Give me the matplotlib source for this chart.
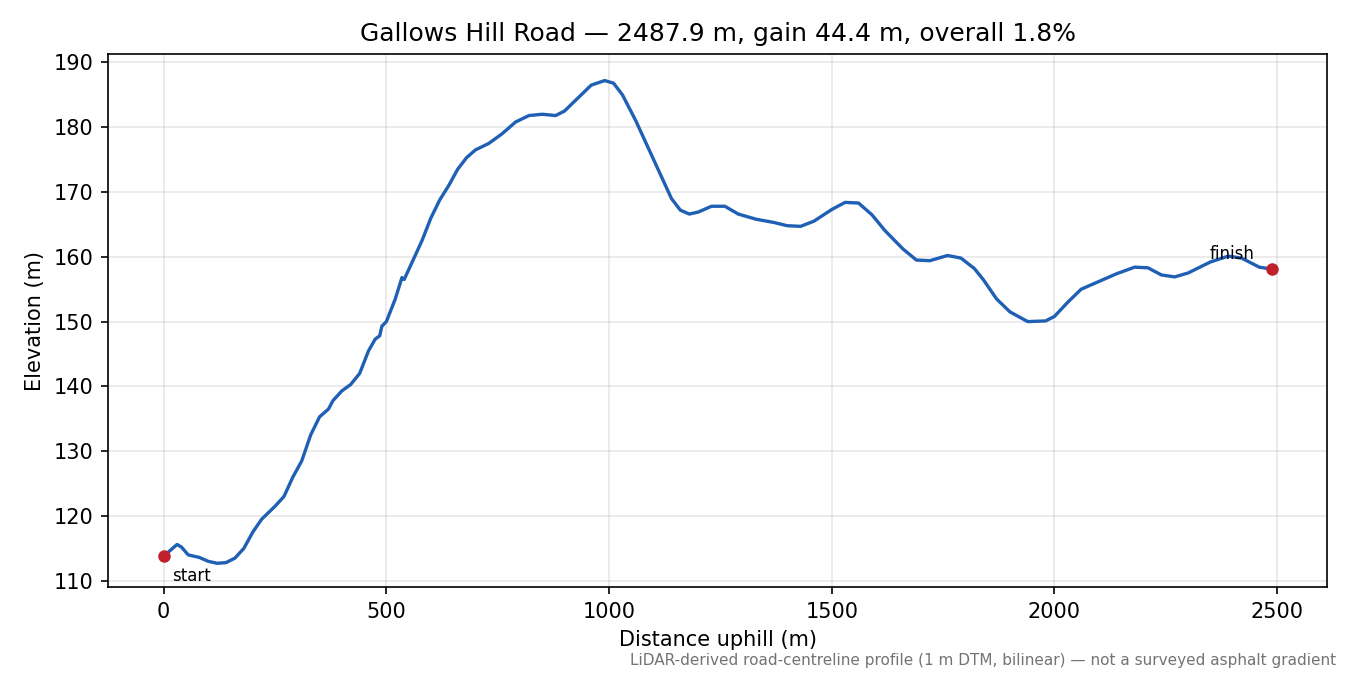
import matplotlib

matplotlib.use("Agg")
import matplotlib.pyplot as plt

# (distance m, elevation m)
DIST = [0, 20, 30, 40, 55, 80, 100, 120, 140, 160, 180, 200, 220, 250, 270, 290, 310,
        330, 350, 370, 380, 400, 420, 440, 460, 475, 485, 490, 500, 520, 535, 540, 560,
        580, 600, 620, 640, 660, 680, 700, 730, 760, 790, 820, 850, 880, 900, 930, 960,
        990, 1010, 1030, 1060, 1090, 1120, 1140, 1160, 1180, 1200, 1230, 1260, 1290,
        1330, 1370, 1400, 1430, 1460, 1500, 1530, 1560, 1590, 1620, 1660, 1690, 1720,
        1760, 1790, 1820, 1840, 1870, 1900, 1940, 1980, 2000, 2030, 2060, 2100, 2140,
        2180, 2210, 2240, 2270, 2300, 2350, 2390, 2420, 2460, 2487.9]
ELEV = [113.8, 115.0, 115.6, 115.2, 114.0, 113.6, 113.0, 112.7, 112.8, 113.5, 115.0,
        117.5, 119.5, 121.5, 123.0, 126.0, 128.5, 132.5, 135.3, 136.5, 137.8, 139.3,
        140.3, 142.0, 145.5, 147.3, 147.8, 149.3, 150.0, 153.5, 156.8, 156.5, 159.5,
        162.5, 166.0, 168.8, 171.0, 173.5, 175.3, 176.5, 177.5, 179.0, 180.8, 181.8,
        182.0, 181.8, 182.5, 184.5, 186.5, 187.2, 186.8, 185.0, 181.0, 176.5, 172.0,
        169.0, 167.2, 166.6, 166.9, 167.8, 167.8, 166.6, 165.8, 165.3, 164.8, 164.7,
        165.5, 167.3, 168.4, 168.3, 166.5, 164.0, 161.2, 159.5, 159.4, 160.2, 159.8,
        158.2, 156.5, 153.5, 151.5, 150.0, 150.1, 150.8, 153.0, 155.0, 156.2, 157.4,
        158.4, 158.3, 157.2, 156.9, 157.5, 159.2, 160.1, 159.8, 158.4, 158.1]

fig, ax = plt.subplots(figsize=(9, 4.5), dpi=150)
ax.plot(DIST, ELEV, color="#1f5fb4", lw=1.6)
ax.plot([DIST[0], DIST[-1]], [ELEV[0], ELEV[-1]], "o", color="#c0202a", ms=5, zorder=3)
ax.annotate("start", (DIST[0], ELEV[0]), xytext=(4, -12), textcoords="offset points",
            fontsize=8)
ax.annotate("finish", (DIST[-1], ELEV[-1]), xytext=(-30, 5), textcoords="offset points",
            fontsize=8)
ax.set_xlim(-125, 2612)
ax.set_ylim(109, 191.3)
ax.grid(alpha=0.3)
ax.set_xlabel("Distance uphill (m)")
ax.set_ylabel("Elevation (m)")
ax.set_title("Gallows Hill Road — 2487.9 m, gain 44.4 m, overall 1.8%")
fig.subplots_adjust(left=0.08, right=0.983, top=0.92, bottom=0.13)
fig.text(0.99, 0.01, "LiDAR-derived road-centreline profile (1 m DTM, bilinear) — not a surveyed asphalt gradient",
         ha="right", va="bottom", fontsize=7.3, color="0.45")
fig.savefig("out.png")
